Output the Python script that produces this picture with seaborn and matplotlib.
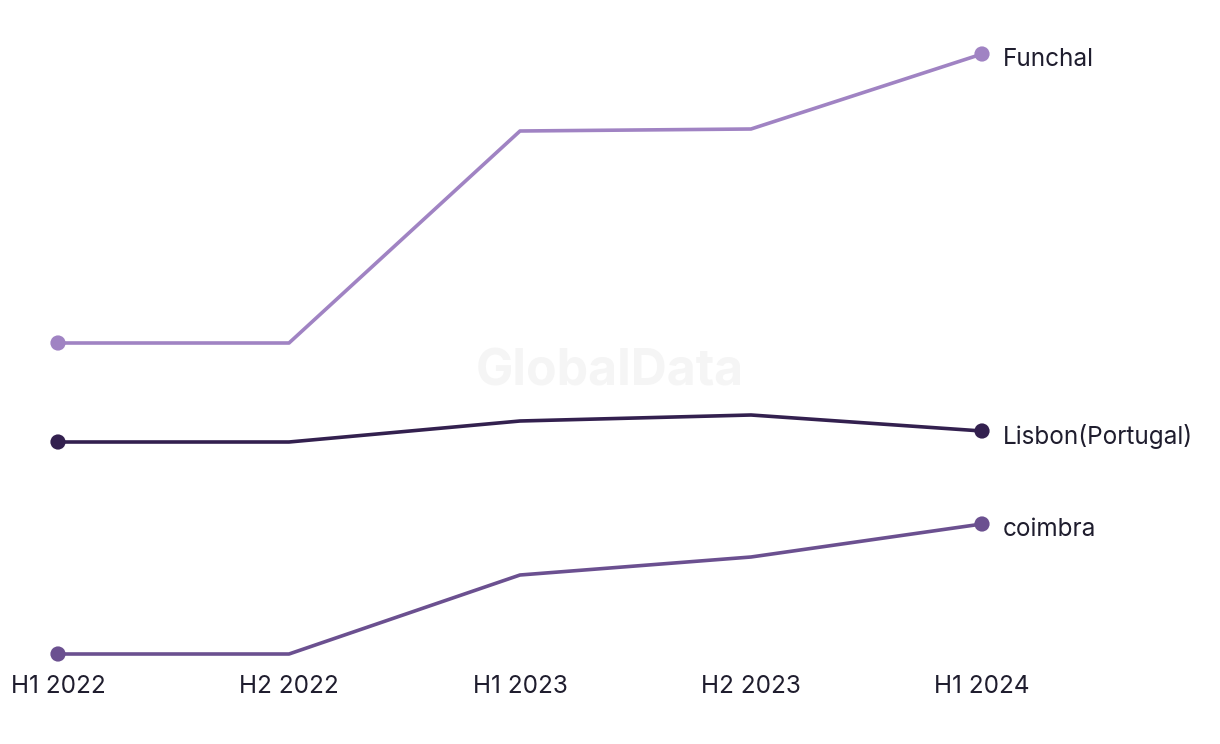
import numpy as np
import pandas as pd
import matplotlib
matplotlib.use("Agg")
import matplotlib.pyplot as plt
import seaborn as sns

periods = ["H1 2022", "H2 2022", "H1 2023", "H2 2023", "H1 2024"]
cities = ["Funchal", "Lisbon(Portugal)", "coimbra"]
funchal = [317, 317, 529, 531, 606]
lisbon = [218, 218, 239, 245, 229]
coimbra = [6, 6, 85, 103, 136]
colors = {"Funchal": "#a083c3", "Lisbon(Portugal)": "#33204f", "coimbra": "#6b5090"}

df = pd.DataFrame({
    "period": periods * 3,
    "x": list(range(len(periods))) * 3,
    "city": np.repeat(cities, len(periods)),
    "value": funchal + lisbon + coimbra,
})

sns.set_theme(style="white")
plt.rcParams["font.family"] = ["Inter", "DejaVu Sans"]

fig = plt.figure(figsize=(12.2, 7.44), dpi=100)
ax = fig.add_axes([58 / 1220, 90 / 744, 924 / 1220, 600 / 744])

fig.text(0.5, 0.50, "GlobalData", ha="center", va="center", fontsize=36,
         fontweight="bold", color="#f5f5f5", zorder=0)

sns.lineplot(data=df, x="x", y="value", hue="city", palette=colors,
             linewidth=2.6, legend=False, ax=ax, clip_on=False)
ends = df[df["x"].isin([0, len(periods) - 1])]
sns.scatterplot(data=ends, x="x", y="value", hue="city", palette=colors,
                s=120, edgecolor="none", legend=False, ax=ax, clip_on=False, zorder=5)

last = df[df["x"] == len(periods) - 1]
for _, row in last.iterrows():
    ax.annotate(row["city"], (row["x"], row["value"]), xytext=(15, -4),
                textcoords="offset points", ha="left", va="center",
                fontsize=17.5, color="#1f1d2e")

ax.set_xlim(0, len(periods) - 1)
ax.set_ylim(min(coimbra), max(funchal))
ax.set_xticks(range(len(periods)))
ax.set_xticklabels(periods, fontsize=17.5, color="#1f1d2e")
ax.tick_params(axis="x", length=0, pad=15)
ax.set_yticks([])
ax.set_xlabel("")
ax.set_ylabel("")
for s in ax.spines.values():
    s.set_visible(False)
ax.patch.set_alpha(0)

fig.savefig("out.png", dpi=100)
